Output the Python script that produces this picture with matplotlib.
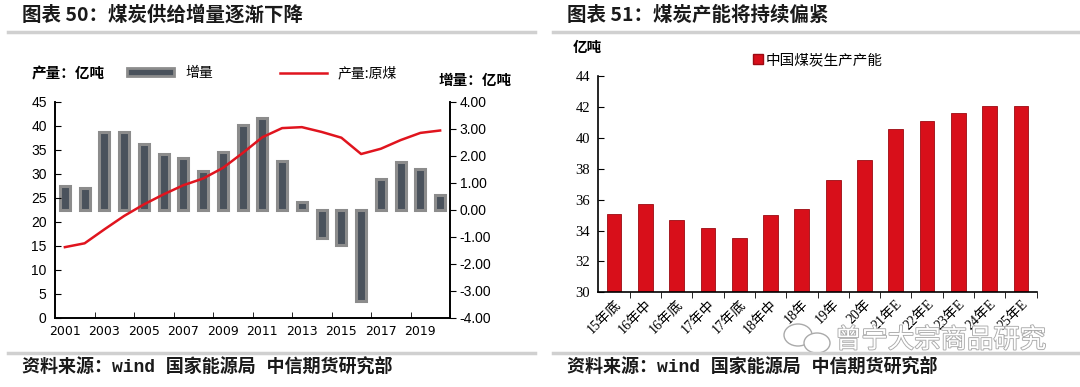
import matplotlib
matplotlib.use("Agg")
import matplotlib.pyplot as plt
from matplotlib.lines import Line2D
from matplotlib.patches import Patch, Ellipse
import matplotlib.patheffects as pe

plt.rcParams['font.family'] = ['Liberation Sans', 'Noto Sans CJK SC']
plt.rcParams['axes.unicode_minus'] = False

# left chart: coal production (亿吨) and yearly increment
years = list(range(2001, 2021))
output = [14.7, 15.5, 18.4, 21.2, 23.6, 25.7, 27.6, 29.0, 31.2, 34.3,
          37.6, 39.5, 39.7, 38.7, 37.5, 34.1, 35.2, 37.0, 38.5, 39.0]
increment = [0.89, 0.79, 2.87, 2.89, 2.44, 2.06, 1.92, 1.45, 2.13, 3.15,
             3.39, 1.82, 0.30, -1.03, -1.29, -3.39, 1.13, 1.76, 1.50, 0.56]

# right chart: capacity
cap_labels = ['15年底', '16年中', '16年底', '17年中', '17年底', '18年中', '18年',
              '19年', '20年', '21年E', '22年E', '23年E', '24年E', '25年E']
capacity = [35.1, 35.7, 34.7, 34.15, 33.5, 35.0, 35.4,
            37.3, 38.6, 40.6, 41.1, 41.6, 42.1, 42.1]

fig = plt.figure(figsize=(10.8, 3.87), dpi=100)
W, H = 1080, 387


def fx(px):
    return px / W


def fy(py):
    return 1 - py / H


cjk_bold = dict(family=['Noto Sans CJK SC'], weight='bold')
src_font = dict(family=['Liberation Mono', 'Noto Sans CJK SC'], weight='bold')

# titles and separators
fig.text(fx(22), fy(15), '图表 50：煤炭供给增量逐渐下降', fontsize=14,
         va='center', ha='left', color='#1a1a1a', **cjk_bold)
fig.text(fx(567), fy(15), '图表 51：煤炭产能将持续偏紧', fontsize=14,
         va='center', ha='left', color='#1a1a1a', **cjk_bold)
for x0, x1 in [(8, 535), (553, 1078)]:
    fig.add_artist(Line2D([fx(x0), fx(x1)], [fy(32), fy(32)], color='#d0d0d0', lw=2.5))
    fig.add_artist(Line2D([fx(x0), fx(x1)], [fy(353), fy(353)], color='#d0d0d0', lw=2.5))
fig.text(fx(22), fy(367), '资料来源：wind 国家能源局 中信期货研究部', fontsize=13,
         va='center', ha='left', color='#1a1a1a', **src_font)
fig.text(fx(567), fy(367), '资料来源：wind 国家能源局 中信期货研究部', fontsize=13,
         va='center', ha='left', color='#1a1a1a', **src_font)

# ---- left chart
axb = fig.add_axes([fx(55), fy(317.7), fx(450 - 55), (317.7 - 101.7) / H])
idx = list(range(len(years)))
axb.bar(idx, increment, width=0.5, color='#4a525c', edgecolor='#8c8c8c', linewidth=2.2)
axb.set_xlim(-0.5, len(years) - 0.5)
axb.set_xticks(idx[::2])
axb.set_xticklabels([str(y) for y in years[::2]], fontsize=9,
                    family=['Liberation Sans Narrow', 'DejaVu Sans'])
axb.tick_params(axis='x', length=0, pad=5)
axb.set_xticks([i + 1.5 for i in idx[::2]], minor=True)
axb.tick_params(axis='x', which='minor', direction='in', length=4)
axb.spines['top'].set_visible(False)

axl = axb.twinx()
axl.plot(idx, output, color='#e0141e', lw=1.8)
axl.set_ylim(0, 45)
axl.yaxis.tick_left()
axl.yaxis.set_label_position('left')
axl.set_yticks(range(0, 46, 5))
axl.tick_params(axis='y', direction='in', length=4, labelsize=10, pad=6)
axl.spines['top'].set_visible(False)

# bars' scale goes on the right
axb.yaxis.tick_right()
axb.yaxis.set_label_position('right')
axb.set_ylim(-4, 4)
axb.set_yticks([-4, -3, -2, -1, 0, 1, 2, 3, 4])
axb.set_yticklabels(['%.2f' % v for v in [-4, -3, -2, -1, 0, 1, 2, 3, 4]])
axb.tick_params(axis='y', direction='out', length=4, labelsize=10, pad=3)

for a in (axb, axl):
    for s in a.spines.values():
        s.set_linewidth(1.2)

fig.text(fx(32), fy(73), '产量：亿吨', fontsize=10.5, va='center', ha='left', **cjk_bold)
fig.text(fx(439), fy(80), '增量：亿吨', fontsize=10.5, va='center', ha='left', **cjk_bold)
h_inc = Patch(facecolor='#4a525c', edgecolor='#8c8c8c', linewidth=2)
h_out = Line2D([], [], color='#e0141e', lw=1.8)
fig.legend([h_inc, h_out], ['增量', '产量:原煤'], loc='center',
           bbox_to_anchor=(fx(262), fy(73)), ncol=2, frameon=False,
           handlelength=3.4, handleheight=0.45, columnspacing=4.8,
           prop=dict(family=['Noto Sans CJK SC'], size=10))

# ---- right chart
axr = fig.add_axes([fx(598.3), fy(292.3), fx(1036.7 - 598.3), (292.3 - 76.4) / H])
cidx = list(range(len(cap_labels)))
axr.bar(cidx, capacity, width=0.47, color='#d80f1a', edgecolor='#9c0a12', linewidth=0.6)
axr.set_ylim(30, 44)
axr.set_xlim(-0.5, len(cap_labels) - 0.5)
axr.set_yticks(range(30, 45, 2))
axr.tick_params(axis='y', direction='in', length=4, labelsize=10.5, pad=6)
for t in axr.get_yticklabels():
    t.set_family('Liberation Serif')
axr.set_xticks(cidx)
axr.set_xticklabels(cap_labels, rotation=45, ha='right', rotation_mode='anchor',
                    fontsize=10, family=['Liberation Serif', 'Noto Sans CJK SC'])
axr.tick_params(axis='x', length=0, pad=4)
axr.set_xticks([i + 0.5 for i in cidx], minor=True)
axr.tick_params(axis='x', which='minor', direction='out', length=4)
axr.spines['top'].set_visible(False)
axr.spines['right'].set_visible(False)
axr.spines['left'].set_linewidth(1.2)
axr.spines['bottom'].set_linewidth(1.2)

fig.text(fx(573), fy(47), '亿吨', fontsize=10.5, va='center', ha='left', **cjk_bold)
fig.legend([Patch(facecolor='#d80f1a', edgecolor='#9c0a12')], ['中国煤炭生产产能'],
           loc='center', bbox_to_anchor=(fx(818), fy(60)), frameon=False,
           handlelength=0.7, handleheight=0.7, handletextpad=0.2,
           prop=dict(family=['Noto Sans CJK SC'], size=10.5))

# watermark
for cx, cy, w, h in [(798, 335, 28, 22), (817, 343, 26, 20)]:
    fig.add_artist(Ellipse((fx(cx), fy(cy)), fx(w), h / H, transform=fig.transFigure,
                           facecolor='white', edgecolor='#aaaaaa', lw=1.0))
fig.text(fx(835), fy(340), '曾宁大宗商品研究', fontsize=19, va='center', ha='left',
         color='white', family=['Noto Sans CJK SC'],
         path_effects=[pe.withStroke(linewidth=1.3, foreground='#aaaaaa')])

fig.savefig('out.png', dpi=100)
